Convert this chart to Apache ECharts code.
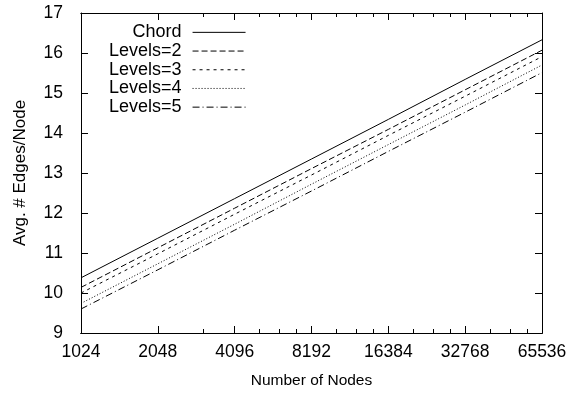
<!DOCTYPE html>
<html>
<head>
<meta charset="utf-8">
<script src="https://cdn.jsdelivr.net/npm/echarts@6/dist/echarts.min.js"></script>
<style>
  html, body { margin: 0; padding: 0; background: #fff; }
  #chart { width: 571px; height: 394px; }
</style>
</head>
<body>
<div id="chart"></div>
<script>
// x values: number of nodes (log2 axis)
const nodes = [1024, 2048, 4096, 8192, 16384, 32768, 65536];
const minorTicks = [3072, 5120, 6144, 7168, 10240, 12288, 14336, 20480, 24576, 28672, 40960, 49152, 57344];
const yTicks = [9, 10, 11, 12, 13, 14, 15, 16, 17];

const seriesNames = ['Chord', 'Levels=2', 'Levels=3', 'Levels=4', 'Levels=5'];
const chord   = [10.38, 11.37, 12.36, 13.35, 14.34, 15.34, 16.33];
const levels2 = [10.14, 11.13, 12.12, 13.11, 14.09, 15.08, 16.07];
const levels3 = [10.00, 10.98, 11.97, 12.95, 13.94, 14.92, 15.91];
const levels4 = [9.74, 10.73, 11.72, 12.72, 13.71, 14.70, 15.70];
const levels5 = [9.60, 10.58, 11.57, 12.55, 13.54, 14.52, 15.51];

const values = [chord, levels2, levels3, levels4, levels5];
const dashes = ['solid', [6, 3], [3, 4], [1, 2], [7, 3, 1, 3]];

const font = 'Liberation Sans, Arial, sans-serif';
const chart = echarts.init(document.getElementById('chart'));

const lineSt = { show: true, onZero: false, lineStyle: { color: '#000', width: 1 } };

// tick-only axes drawn in log2 space (major and minor, bottom and top)
const tickAxis = (pos, ticks, len) => ({
  type: 'value',
  position: pos,
  min: 10,
  max: 16,
  splitLine: { show: false },
  axisLine: lineSt,
  axisTick: { show: true, inside: true, length: len, customValues: ticks.map(Math.log2), lineStyle: { color: '#000', width: 1 } },
  axisLabel: { show: false },
});

const yAxisBase = (pos) => ({
  type: 'value',
  min: 9,
  max: 17,
  interval: 1,
  position: pos,
  splitLine: { show: false },
  axisLine: lineSt,
  axisTick: { show: true, inside: true, length: 7, customValues: yTicks, lineStyle: { color: '#000', width: 1 } },
});

const option = {
  animation: false,
  grid: { left: 81, right: 29, top: 13, bottom: 57 },
  legend: {
    orient: 'vertical',
    left: 104,
    top: 18,
    align: 'right',
    itemWidth: 53,
    itemHeight: 10,
    itemGap: 0,
    itemStyle: { opacity: 0 },
    lineStyle: { width: 1 },
    textStyle: {
      fontFamily: font,
      fontSize: 18,
      lineHeight: 18.7,
      color: '#000',
      padding: [0, 6, 0, 0],
    },
    data: seriesNames,
  },
  xAxis: [
    {
      type: 'log',
      logBase: 2,
      min: 1024,
      max: 65536,
      position: 'bottom',
      name: 'Number of Nodes',
      nameLocation: 'middle',
      nameGap: 40,
      nameTextStyle: { fontFamily: font, fontSize: 15.5, color: '#000' },
      splitLine: { show: false },
      axisLine: lineSt,
      axisTick: { show: false },
      axisLabel: {
        fontFamily: font,
        fontSize: 17.5,
        color: '#000',
        margin: 10,
        formatter: (v) => String(Math.round(v)),
      },
    },
    tickAxis('bottom', nodes, 7),
    tickAxis('bottom', minorTicks, 4),
    tickAxis('top', nodes, 7),
    tickAxis('top', minorTicks, 4),
  ],
  yAxis: [
    {
      ...yAxisBase('left'),
      name: 'Avg. # Edges/Node',
      nameLocation: 'middle',
      nameGap: 52,
      nameTextStyle: { fontFamily: font, fontSize: 17, color: '#000' },
      axisLabel: { fontFamily: font, fontSize: 17.5, color: '#000', margin: 18 },
    },
    {
      ...yAxisBase('right'),
      axisLabel: { show: false },
    },
  ],
  series: seriesNames.map((name, i) => ({
    name: name,
    type: 'line',
    xAxisIndex: 0,
    yAxisIndex: 0,
    symbol: 'none',
    lineStyle: { color: '#000', width: 1, type: dashes[i] },
    itemStyle: { color: '#000' },
    data: nodes.map((n, j) => [n, values[i][j]]),
  })),
};

chart.setOption(option);
</script>
</body>
</html>
